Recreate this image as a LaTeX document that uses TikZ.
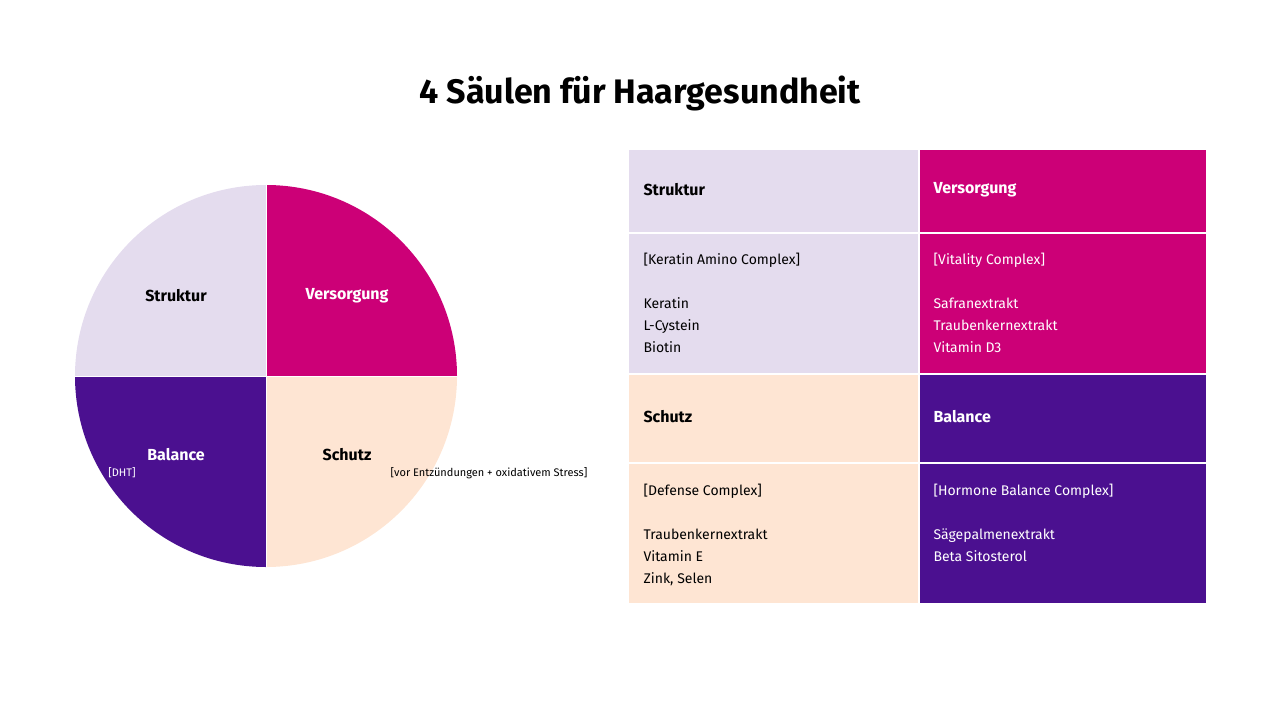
\documentclass[tikz,border=0pt]{standalone}
\usepackage{fontspec}
\setmainfont{Fira Sans}
\definecolor{lav}{HTML}{E4DCEE}
\definecolor{mag}{HTML}{CC0077}
\definecolor{purp}{HTML}{4B1090}
\definecolor{peach}{HTML}{FEE5D3}
\tikzset{
  head/.style={anchor=west, font=\fontsize{16}{18}\selectfont\bfseries},
  body/.style={anchor=north west, align=left, font=\fontsize{14}{22}\selectfont},
  qlabel/.style={font=\fontsize{16}{18}\selectfont\bfseries},
  note/.style={font=\fontsize{11}{13}\selectfont}
}
\begin{document}
\begin{tikzpicture}[x=1pt,y=-1pt]
  \useasboundingbox (0,0) rectangle (1280,720);
  \node[font=\fontsize{34}{38}\selectfont\bfseries] (title) at (640,93) {4 Säulen für Haargesundheit};

  % pie
  \begin{scope}
    \clip (266,376) circle (191);
    \fill[lav] (60,170) rectangle (266,376);
    \fill[mag] (266,170) rectangle (470,376);
    \fill[purp] (60,376) rectangle (266,580);
    \fill[peach] (266,376) rectangle (470,580);
    \draw[white, thick] (266,170) -- (266,580) (60,376) -- (470,376);
  \end{scope}
  \node[qlabel] (struktur) at (176,296) {Struktur};
  \node[qlabel, white] (versorgung) at (347,296) {Versorgung};
  \node[qlabel, white] (balance) at (176,455) {Balance};
  \node[qlabel] (schutz) at (347,455) {Schutz};
  \node[note, white] (dht) at (122,473) {[DHT]};
  \node[note] (stress) at (489,473) {[vor Entzündungen + oxidativem Stress]};

  % table
  \fill[lav] (629,150) rectangle (918,232);
  \fill[mag] (920,150) rectangle (1206,232);
  \fill[lav] (629,234) rectangle (918,373);
  \fill[mag] (920,234) rectangle (1206,373);
  \fill[peach] (629,375) rectangle (918,462);
  \fill[purp] (920,375) rectangle (1206,462);
  \fill[peach] (629,464) rectangle (918,603);
  \fill[purp] (920,464) rectangle (1206,603);

  \node[head] (h1) at (640,190) {Struktur};
  \node[head, white] (h2) at (930,190) {Versorgung};
  \node[head] (h3) at (640,417) {Schutz};
  \node[head, white] (h4) at (930,417) {Balance};
  \node[body] (b1) at (640,250) {[Keratin Amino Complex]\\[22pt]Keratin\\L-Cystein\\Biotin};
  \node[body, white] (b2) at (930,250) {[Vitality Complex]\\[22pt]Safranextrakt\\Traubenkernextrakt\\Vitamin D3};
  \node[body] (b3) at (640,481) {[Defense Complex]\\[22pt]Traubenkernextrakt\\Vitamin E\\Zink, Selen};
  \node[body, white] (b4) at (930,481) {[Hormone Balance Complex]\\[22pt]Sägepalmenextrakt\\Beta Sitosterol};
\end{tikzpicture}
\end{document}
